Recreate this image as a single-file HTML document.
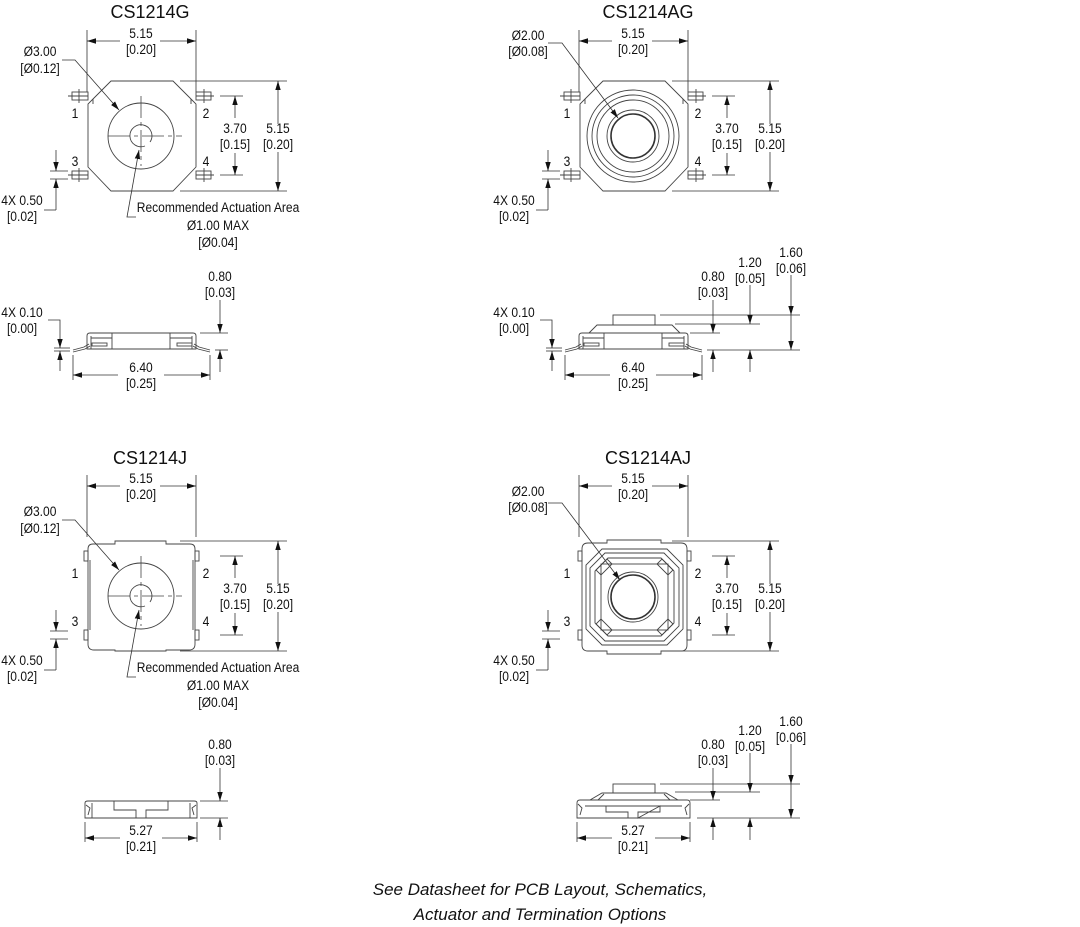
<!DOCTYPE html>
<html><head><meta charset="utf-8"><style>
html,body{margin:0;padding:0;background:#fff;}
svg{display:block;}
text{font-family:"Liberation Sans Narrow","Liberation Sans",sans-serif;font-size:14px;fill:#111;text-anchor:middle;transform-box:fill-box;transform-origin:center;transform:scaleX(0.86);}
.t{font-family:"Liberation Sans",sans-serif;font-size:18px;transform:none;}
.f{font-family:"Liberation Sans",sans-serif;font-size:17px;font-style:italic;transform:none;}
.l{fill:none;stroke:#444;stroke-width:0.9;}
.d{fill:none;stroke:#333;stroke-width:0.8;}
.dash{fill:none;stroke:#444;stroke-width:0.8;stroke-dasharray:22 4 4 4;}
</style></head><body>
<svg width="1080" height="927" viewBox="0 0 1080 927" xmlns="http://www.w3.org/2000/svg">
<defs>
<marker id="a" viewBox="0 0 10 10" refX="10" refY="5" markerWidth="9" markerHeight="9" markerUnits="userSpaceOnUse" orient="auto-start-reverse"><path d="M0,2 L10,5 L0,8 z" fill="#111"/></marker>

<g id="hdim">
  <line class="d" x1="87" y1="30" x2="87" y2="92"/>
  <line class="d" x1="196" y1="30" x2="196" y2="92"/>
  <line class="d" x1="87" y1="41" x2="120" y2="41" marker-start="url(#a)"/>
  <line class="d" x1="160" y1="41" x2="196" y2="41" marker-end="url(#a)"/>
  <text x="141" y="38">5.15</text><text x="141" y="54">[0.20]</text>
</g>
<g id="vdim">
  <line class="d" x1="180" y1="81" x2="287" y2="81"/>
  <line class="d" x1="180" y1="191" x2="287" y2="191"/>
  <line class="d" x1="278" y1="81" x2="278" y2="124" marker-start="url(#a)"/>
  <line class="d" x1="278" y1="152" x2="278" y2="191" marker-end="url(#a)"/>
  <text x="278" y="133">5.15</text><text x="278" y="149">[0.20]</text>
  <line class="d" x1="220" y1="96" x2="243" y2="96"/>
  <line class="d" x1="220" y1="175" x2="243" y2="175"/>
  <line class="d" x1="235" y1="96" x2="235" y2="118" marker-start="url(#a)"/>
  <line class="d" x1="235" y1="153" x2="235" y2="175" marker-end="url(#a)"/>
  <text x="235" y="133">3.70</text><text x="235" y="149">[0.15]</text>
  <text x="75" y="118">1</text><text x="206" y="118">2</text>
  <text x="75" y="166">3</text><text x="206" y="166">4</text>
  <line class="d" x1="50" y1="171" x2="68" y2="171"/>
  <line class="d" x1="50" y1="179" x2="68" y2="179"/>
  <line class="d" x1="56" y1="150" x2="56" y2="171" marker-end="url(#a)"/>
  <line class="d" x1="56" y1="210" x2="56" y2="179" marker-end="url(#a)"/>
  <line class="d" x1="44" y1="210" x2="56" y2="210"/>
  <text x="22" y="205">4X 0.50</text><text x="22" y="221">[0.02]</text>
</g>
<g id="gbody">
  <path class="l" d="M111,81 L173,81 L191,99 L196,104 L196,167 L173,191 L111,191 L88,167 L88,104 L93,99 Z"/>
  <line class="l" x1="93" y1="99" x2="93" y2="104"/><line class="l" x1="191" y1="99" x2="191" y2="104"/>
  <rect class="l" x="72" y="92" width="16" height="8"/><line class="l" x1="79" y1="89" x2="79" y2="103"/><line class="l" x1="68" y1="96" x2="88" y2="96"/>
  <rect class="l" x="72" y="171" width="16" height="8"/><line class="l" x1="79" y1="168" x2="79" y2="182"/><line class="l" x1="68" y1="175" x2="88" y2="175"/>
  <rect class="l" x="196" y="92" width="15" height="8"/><line class="l" x1="204" y1="89" x2="204" y2="103"/><line class="l" x1="196" y1="96" x2="214" y2="96"/>
  <rect class="l" x="196" y="171" width="15" height="8"/><line class="l" x1="204" y1="168" x2="204" y2="182"/><line class="l" x1="196" y1="175" x2="214" y2="175"/>
</g>
<g id="gact">
  <circle class="l" cx="141" cy="136" r="33"/>
  <path class="l" d="M145,146 A11,11 0 1 1 150,142"/>
  <line class="dash" x1="108" y1="136" x2="182" y2="136"/>
  <line class="dash" x1="141" y1="96" x2="141" y2="166"/>
  <text x="40" y="56">Ø3.00</text><text x="40" y="73">[Ø0.12]</text>
  <polyline class="d" points="62,60 75,60 119,110" marker-end="url(#a)"/>
  <polyline class="d" points="136,217 127,217 139,150" marker-end="url(#a)"/>
  <text x="218" y="212">Recommended Actuation Area</text>
  <text x="218" y="230">Ø1.00 MAX</text><text x="218" y="247">[Ø0.04]</text>
</g>
<g id="sideG">
  <path class="l" d="M87,349 L87,336 Q87,333 90,333 L193,333 Q196,333 196,336 L196,349 Z"/>
  <line class="l" x1="91" y1="336" x2="91" y2="349"/><line class="l" x1="192" y1="336" x2="192" y2="349"/>
  <line class="l" x1="112" y1="333" x2="112" y2="349"/><line class="l" x1="170" y1="333" x2="170" y2="349"/>
  <line class="l" x1="91" y1="338" x2="112" y2="338"/><line class="l" x1="170" y1="338" x2="192" y2="338"/>
  <rect class="l" x="92" y="343" width="15" height="3"/><rect class="l" x="177" y="343" width="15" height="3"/>
  <path class="l" d="M73,350 L84,347 L89,344 M73,352 L85,349 L90,346"/>
  <path class="l" d="M210,350 L199,347 L194,344 M210,352 L198,349 L193,346"/>
</g>
<g id="sidedimG">
  <line class="d" x1="73" y1="355" x2="73" y2="380"/><line class="d" x1="210" y1="355" x2="210" y2="380"/>
  <line class="d" x1="73" y1="375" x2="118" y2="375" marker-start="url(#a)"/>
  <line class="d" x1="164" y1="375" x2="210" y2="375" marker-end="url(#a)"/>
  <text x="141" y="372">6.40</text><text x="141" y="388">[0.25]</text>
  <line class="d" x1="54" y1="348" x2="70" y2="348"/><line class="d" x1="54" y1="351" x2="70" y2="351"/>
  <polyline class="d" points="48,320 60,320 60,348" marker-end="url(#a)"/>
  <line class="d" x1="60" y1="371" x2="60" y2="351" marker-end="url(#a)"/>
  <text x="22" y="317">4X 0.10</text><text x="22" y="333">[0.00]</text>
</g>
</defs>

<!-- CS1214G -->
<text class="t" x="150" y="18">CS1214G</text>
<use href="#hdim"/><use href="#vdim"/><use href="#gbody"/><use href="#gact"/>
<use href="#sideG"/><use href="#sidedimG"/>
<line class="d" x1="200" y1="333" x2="228" y2="333"/>
<line class="d" x1="215" y1="350" x2="228" y2="350"/>
<line class="d" x1="220" y1="300" x2="220" y2="333" marker-end="url(#a)"/>
<line class="d" x1="220" y1="372" x2="220" y2="350" marker-end="url(#a)"/>
<text x="220" y="281">0.80</text><text x="220" y="297">[0.03]</text>

<!-- CS1214AG -->
<text class="t" x="648" y="18">CS1214AG</text>
<g transform="translate(492,0)">
  <use href="#hdim"/><use href="#vdim"/><use href="#gbody"/>
  <circle class="l" cx="141" cy="136" r="46"/>
  <circle class="l" cx="141" cy="136" r="41"/>
  <circle class="l" cx="141" cy="136" r="36"/>
  <circle class="l" cx="141" cy="136" r="26"/>
  <circle cx="141" cy="136" r="22" fill="none" stroke="#333" stroke-width="1.6"/>
  <text x="36" y="40">Ø2.00</text><text x="36" y="56">[Ø0.08]</text>
  <polyline class="d" points="56,43 70,43 126,118" marker-end="url(#a)"/>
  <use href="#sideG"/><use href="#sidedimG"/>
  <path class="l" d="M97,333 L105,325 L180,325 L188,333"/>
  <rect class="l" x="121" y="315" width="42" height="10"/>
</g>
<line class="d" x1="660" y1="315" x2="800" y2="315"/>
<line class="d" x1="675" y1="324" x2="760" y2="324"/>
<line class="d" x1="690" y1="333" x2="720" y2="333"/>
<line class="d" x1="707" y1="350" x2="800" y2="350"/>
<line class="d" x1="713" y1="300" x2="713" y2="333" marker-end="url(#a)"/>
<line class="d" x1="713" y1="372" x2="713" y2="350" marker-end="url(#a)"/>
<text x="713" y="281">0.80</text><text x="713" y="297">[0.03]</text>
<line class="d" x1="750" y1="285" x2="750" y2="324" marker-end="url(#a)"/>
<line class="d" x1="750" y1="372" x2="750" y2="350" marker-end="url(#a)"/>
<text x="750" y="267">1.20</text><text x="750" y="283">[0.05]</text>
<line class="d" x1="791" y1="275" x2="791" y2="315" marker-end="url(#a)"/>
<line class="d" x1="791" y1="315" x2="791" y2="350" marker-end="url(#a)"/>
<text x="791" y="257">1.60</text><text x="791" y="273">[0.06]</text>

<!-- CS1214J -->
<text class="t" x="150" y="464">CS1214J</text>
<g transform="translate(0,445)"><use href="#hdim"/></g>
<g transform="translate(0,460)">
  <use href="#vdim"/>
  <path class="l" d="M115,81 L166,81 L166,84 L190,84 Q195,84 195,89 L195,184 Q195,190 189,190 L166,190 L166,191 L115,191 L115,190 L94,190 Q88,190 88,184 L88,89 Q88,84 93,84 L115,84 Z"/>
  <rect class="l" x="84" y="91" width="4" height="10"/><rect class="l" x="84" y="170" width="4" height="10"/>
  <rect class="l" x="195" y="91" width="4" height="10"/><rect class="l" x="195" y="170" width="4" height="10"/>
  <line class="l" x1="90" y1="100" x2="90" y2="170"/><line class="l" x1="193" y1="100" x2="193" y2="170"/>
  <use href="#gact"/>
</g>
<path class="l" d="M85,818 L85,803 Q85,801 88,801 L194,801 Q197,801 197,803 L197,818 Z"/>
<path class="l" d="M114,801 L114,810 L136,810 L136,818 M146,818 L146,810 L168,810 L168,801"/>
<path class="l" d="M86,805 L90,808 L88,815 M196,805 L192,808 L194,815"/>
<line class="l" x1="92" y1="803" x2="92" y2="818"/><line class="l" x1="190" y1="803" x2="190" y2="818"/>
<line class="d" x1="85" y1="822" x2="85" y2="842"/><line class="d" x1="197" y1="822" x2="197" y2="842"/>
<line class="d" x1="85" y1="838" x2="120" y2="838" marker-start="url(#a)"/>
<line class="d" x1="162" y1="838" x2="197" y2="838" marker-end="url(#a)"/>
<text x="141" y="835">5.27</text><text x="141" y="851">[0.21]</text>
<line class="d" x1="200" y1="801" x2="228" y2="801"/>
<line class="d" x1="200" y1="818" x2="228" y2="818"/>
<line class="d" x1="220" y1="768" x2="220" y2="801" marker-end="url(#a)"/>
<line class="d" x1="220" y1="840" x2="220" y2="818" marker-end="url(#a)"/>
<text x="220" y="749">0.80</text><text x="220" y="765">[0.03]</text>

<!-- CS1214AJ -->
<text class="t" x="648" y="464">CS1214AJ</text>
<g transform="translate(492,445)"><use href="#hdim"/></g>
<g transform="translate(492,460)">
  <use href="#vdim"/>
  <text x="36" y="36">Ø2.00</text><text x="36" y="52">[Ø0.08]</text>
  <polyline class="d" points="56,43 70,43 128,120" marker-end="url(#a)"/>
</g>
<path class="l" d="M607,543 L607,540 L661,540 L661,543 L681,543 Q687,543 687,549 L687,645 Q687,651 681,651 L661,651 L661,654 L607,654 L607,651 L588,651 Q582,651 582,645 L582,549 Q582,543 588,543 Z"/>
<rect class="l" x="578" y="551" width="4" height="10"/><rect class="l" x="578" y="630" width="4" height="10"/>
<rect class="l" x="687" y="551" width="4" height="10"/><rect class="l" x="687" y="630" width="4" height="10"/>
<path class="l" d="M602,549 L667,549 L683,565 L683,629 L667,645 L602,645 L586,629 L586,565 Z"/>
<path class="l" d="M605,553 L664,553 L679,568 L679,626 L664,641 L605,641 L590,626 L590,568 Z"/>
<path class="l" d="M608,558 L661,558 L674,571 L674,623 L661,636 L608,636 L595,623 L595,571 Z"/>
<rect class="l" x="601" y="564" width="67" height="66"/>
<path class="l" d="M596,570 L607,559 L612,564 L601,575 Z M673,570 L662,559 L657,564 L668,575 Z M596,624 L607,635 L612,630 L601,619 Z M673,624 L662,635 L657,630 L668,619 Z"/>
<circle class="l" cx="633" cy="597" r="25"/>
<circle cx="633" cy="597" r="22" fill="none" stroke="#333" stroke-width="1.6"/>
<path class="l" d="M577,818 L577,803 Q577,800 580,800 L687,800 Q690,800 690,803 L690,818 Z"/>
<path class="l" d="M606,806 L606,812 L628,812 L628,818 M638,818 L638,812 L660,812 L660,806 Z"/>
<line class="l" x1="585" y1="806" x2="682" y2="806"/>
<path class="l" d="M590,800 L602,793 L666,793 L678,800 M598,800 L604,794 M670,800 L664,794"/>
<rect class="l" x="613" y="784" width="42" height="9"/>
<path class="l" d="M578,804 L582,808 L580,815 M689,804 L685,808 L687,815"/>
<line class="d" x1="577" y1="822" x2="577" y2="842"/><line class="d" x1="690" y1="822" x2="690" y2="842"/>
<line class="d" x1="577" y1="838" x2="612" y2="838" marker-start="url(#a)"/>
<line class="d" x1="655" y1="838" x2="690" y2="838" marker-end="url(#a)"/>
<text x="633" y="835">5.27</text><text x="633" y="851">[0.21]</text>
<line class="d" x1="660" y1="784" x2="800" y2="784"/>
<line class="d" x1="675" y1="792" x2="760" y2="792"/>
<line class="d" x1="690" y1="800" x2="720" y2="800"/>
<line class="d" x1="697" y1="818" x2="800" y2="818"/>
<line class="d" x1="713" y1="768" x2="713" y2="800" marker-end="url(#a)"/>
<line class="d" x1="713" y1="840" x2="713" y2="818" marker-end="url(#a)"/>
<text x="713" y="749">0.80</text><text x="713" y="765">[0.03]</text>
<line class="d" x1="750" y1="753" x2="750" y2="792" marker-end="url(#a)"/>
<line class="d" x1="750" y1="840" x2="750" y2="818" marker-end="url(#a)"/>
<text x="750" y="735">1.20</text><text x="750" y="751">[0.05]</text>
<line class="d" x1="791" y1="744" x2="791" y2="784" marker-end="url(#a)"/>
<line class="d" x1="791" y1="784" x2="791" y2="818" marker-end="url(#a)"/>
<text x="791" y="726">1.60</text><text x="791" y="742">[0.06]</text>

<text class="f" x="540" y="895">See Datasheet for PCB Layout, Schematics,</text>
<text class="f" x="540" y="920">Actuator and Termination Options</text>
</svg>
</body></html>
